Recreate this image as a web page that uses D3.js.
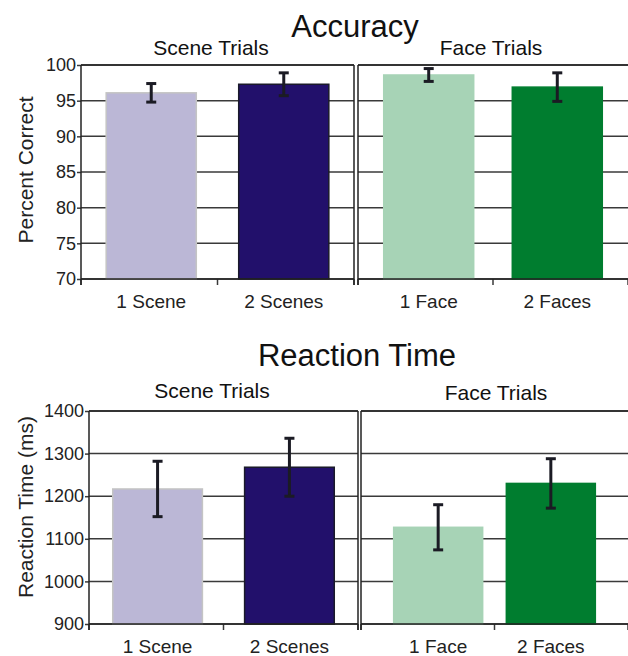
<!DOCTYPE html>
<html>
<head>
<meta charset="utf-8">
<script src="https://cdn.jsdelivr.net/npm/d3@7"></script>
<style>
  html, body { margin: 0; padding: 0; background: #fff; }
  svg { display: block; }
</style>
</head>
<body>
<svg id="chart" width="628" height="656" font-family="'Liberation Sans', Arial, sans-serif"></svg>
<script>
// Condition labels
const sceneCategories = ["1 Scene", "2 Scenes"];
const faceCategories = ["1 Face", "2 Faces"];

// Accuracy (% correct) means and error half-widths
const accuracyScene = [96.1, 97.3];
const accuracySceneErr = [1.3, 1.6];
const accuracyFace = [98.6, 96.9];
const accuracyFaceErr = [0.9, 2.0];

// Reaction time (ms) means and error half-widths
const rtScene = [1217, 1268];
const rtSceneErr = [65, 68];
const rtFace = [1127, 1230];
const rtFaceErr = [53, 58];

// Axis ticks
const accuracyTicks = [70, 75, 80, 85, 90, 95, 100];
const rtTicks = [900, 1000, 1100, 1200, 1300, 1400];

// Bar colours per condition
const sceneFill = ["#bbb7d6", "#22106b"];
const sceneStroke = ["#c4c4c4", "#1a1a2a"];
const faceFill = ["#a7d3b6", "#007d2f"];
const faceStroke = ["#a7d3b6", "#007d2f"];

const svg = d3.select("#chart");
const FONT = "'Liberation Sans', Arial, sans-serif";
const gridColor = "#3a3a3a";
const errColor = "#1b1b24";

function drawChart(opt) {
  const g = svg.append("g");
  const y = d3.scaleLinear().domain(opt.domain).range([opt.bottom, opt.top]);

  // Main title
  g.append("text")
    .attr("x", opt.titleX).attr("y", opt.titleY)
    .attr("text-anchor", "middle")
    .attr("font-size", 31).attr("fill", "#111")
    .text(opt.title);

  // Y axis title
  g.append("text")
    .attr("transform", `translate(${opt.yTitleX},${opt.yTitleY}) rotate(-90)`)
    .attr("text-anchor", "middle")
    .attr("font-size", 21).attr("fill", "#222")
    .text(opt.yTitle);

  // Y axis with tick labels
  const yAxis = d3.axisLeft(y).tickValues(opt.ticks).tickFormat(d3.format("d"))
    .tickSize(4).tickPadding(1);
  const ax = g.append("g").attr("transform", `translate(${opt.panels[0].x0},0)`).call(yAxis);
  ax.attr("font-family", FONT);
  ax.select(".domain").remove();
  ax.selectAll("line").attr("stroke", gridColor).attr("stroke-width", 1.5);
  ax.selectAll("text").attr("font-size", 18).attr("fill", "#222");

  opt.panels.forEach((p, pi) => {
    const x = d3.scaleBand().domain(p.categories).range([p.x0, p.x1])
      .paddingInner(p.padIn).paddingOuter(p.padOut);
    const pg = g.append("g");

    // Panel subtitle
    pg.append("text")
      .attr("x", p.subX).attr("y", p.subY)
      .attr("text-anchor", "middle")
      .attr("font-size", 21).attr("fill", "#111")
      .text(p.label);

    // Horizontal gridlines
    pg.selectAll("line.grid").data(opt.ticks).join("line")
      .attr("class", "grid")
      .attr("x1", p.x0).attr("x2", p.x1)
      .attr("y1", d => y(d)).attr("y2", d => y(d))
      .attr("stroke", gridColor).attr("stroke-width", 1.5);

    // Bars
    pg.selectAll("rect.bar").data(p.values).join("rect")
      .attr("class", "bar")
      .attr("x", (d, i) => x(p.categories[i]))
      .attr("width", x.bandwidth())
      .attr("y", d => y(d))
      .attr("height", d => y(opt.domain[0]) - y(d))
      .attr("fill", (d, i) => p.fill[i])
      .attr("stroke", (d, i) => p.stroke[i])
      .attr("stroke-width", 1.5);

    // Error bars
    p.values.forEach((v, i) => {
      const cx = x(p.categories[i]) + x.bandwidth() / 2;
      const e = p.errors[i];
      const eg = pg.append("g").attr("stroke", errColor).attr("stroke-width", 3);
      eg.append("line").attr("x1", cx).attr("x2", cx).attr("y1", y(v + e)).attr("y2", y(v - e));
      eg.append("line").attr("x1", cx - 5).attr("x2", cx + 5).attr("y1", y(v + e)).attr("y2", y(v + e));
      eg.append("line").attr("x1", cx - 5).attr("x2", cx + 5).attr("y1", y(v - e)).attr("y2", y(v - e));
    });

    // Category labels
    pg.selectAll("text.cat").data(p.categories).join("text")
      .attr("class", "cat")
      .attr("x", d => x(d) + x.bandwidth() / 2)
      .attr("y", opt.catY)
      .attr("text-anchor", "middle")
      .attr("font-size", 19).attr("fill", "#222")
      .text(d => d);

    // Category boundary ticks on the x axis
    const bounds = [p.x0, (p.x0 + p.x1) / 2, p.x1];
    pg.selectAll("line.xt").data(bounds).join("line")
      .attr("class", "xt")
      .attr("x1", d => d).attr("x2", d => d)
      .attr("y1", opt.bottom).attr("y2", opt.bottom + 6)
      .attr("stroke", gridColor).attr("stroke-width", 1.5);

    // Panel frame: top, left and right edges plus baseline
    pg.append("line").attr("x1", p.x0).attr("x2", p.x1).attr("y1", opt.top).attr("y2", opt.top)
      .attr("stroke", "#222").attr("stroke-width", 1.5);
    pg.append("line").attr("x1", p.x0).attr("x2", p.x0).attr("y1", opt.top).attr("y2", opt.bottom + 6)
      .attr("stroke", "#222").attr("stroke-width", 1.5);
    if (pi === 0) {
      pg.append("line").attr("x1", p.x1).attr("x2", p.x1).attr("y1", opt.top).attr("y2", opt.bottom + 6)
        .attr("stroke", "#222").attr("stroke-width", 1.5);
    }
    pg.append("line").attr("x1", p.x0).attr("x2", p.x1).attr("y1", opt.bottom).attr("y2", opt.bottom)
      .attr("stroke", "#222").attr("stroke-width", 1.5);
  });
}

drawChart({
  title: "Accuracy", titleX: 355, titleY: 37,
  yTitle: "Percent Correct", yTitleX: 33, yTitleY: 170,
  domain: [70, 100], ticks: accuracyTicks,
  top: 65, bottom: 279, catY: 308,
  panels: [
    { label: "Scene Trials", categories: sceneCategories, values: accuracyScene, errors: accuracySceneErr,
      fill: sceneFill, stroke: sceneStroke, x0: 81, x1: 354, padIn: 0.32, padOut: 0.19, subX: 211, subY: 55 },
    { label: "Face Trials", categories: faceCategories, values: accuracyFace, errors: accuracyFaceErr,
      fill: faceFill, stroke: faceStroke, x0: 358, x1: 628, padIn: 0.3, padOut: 0.2, subX: 491, subY: 55 }
  ]
});

drawChart({
  title: "Reaction Time", titleX: 357, titleY: 366,
  yTitle: "Reaction Time (ms)", yTitleX: 33, yTitleY: 507,
  domain: [900, 1400], ticks: rtTicks,
  top: 411, bottom: 624, catY: 653,
  panels: [
    { label: "Scene Trials", categories: sceneCategories, values: rtScene, errors: rtSceneErr,
      fill: sceneFill, stroke: sceneStroke, x0: 89, x1: 358, padIn: 0.32, padOut: 0.18, subX: 212, subY: 398 },
    { label: "Face Trials", categories: faceCategories, values: rtFace, errors: rtFaceErr,
      fill: faceFill, stroke: faceStroke, x0: 361, x1: 628, padIn: 0.21, padOut: 0.29, subX: 496, subY: 400 }
  ]
});
</script>
</body>
</html>
